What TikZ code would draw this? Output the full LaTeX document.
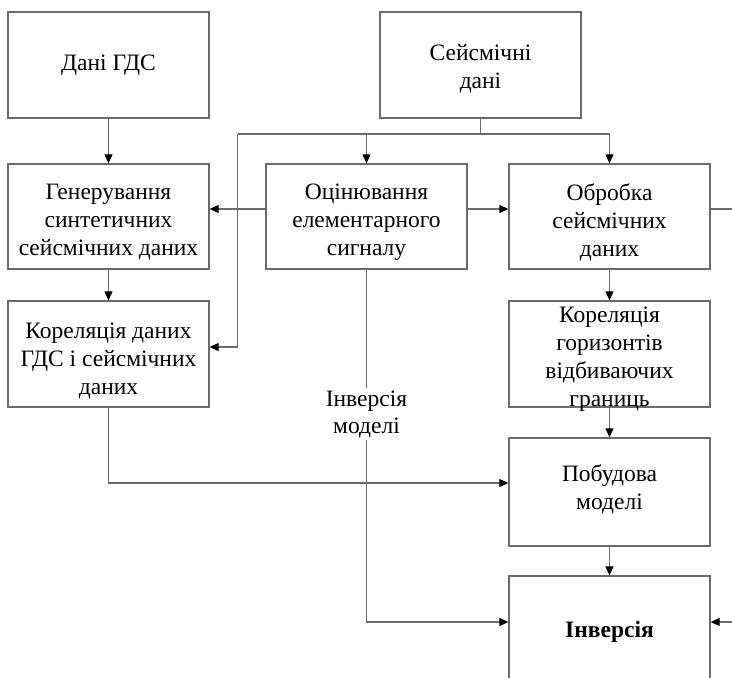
\documentclass[tikz,border=0pt]{standalone}
\usepackage{fontspec}
\setmainfont{Liberation Serif}
\usetikzlibrary{arrows.meta}
\begin{document}
\begin{tikzpicture}[x=1pt,y=-1pt,
  box/.style={draw=black!58, line width=1.3pt, minimum width=201pt, inner sep=0pt},
  txt/.style={align=center, font=\fontsize{23.5}{28}\selectfont, inner sep=0pt},
  link/.style={draw=black!58, line width=1.1pt},
  arr/.style={link, -{Triangle[length=9pt,width=8pt,color=black]}},
  lbl/.style={fill=white, align=center, font=\fontsize{23.5}{27}\selectfont, inner sep=2pt}]
\useasboundingbox (0,0) rectangle (732,678);
\clip (0,0) rectangle (732,678);

% block frames
\node[box, minimum height=106pt] (gds)  at (108.5,65)    {};
\node[box, minimum height=106pt] (seis) at (480.5,65)    {};
\node[box, minimum height=105pt] (gen)  at (108.5,216.5) {};
\node[box, minimum height=105pt] (ocin) at (366.5,216.5) {};
\node[box, minimum height=105pt] (obr)  at (609.5,216.5) {};
\node[box, minimum height=106pt] (kor1) at (108.5,354)   {};
\node[box, minimum height=106pt] (kor2) at (609.5,354)   {};
\node[box, minimum height=108pt] (pob)  at (609.5,492)   {};
\node[box, minimum height=108pt] (inv)  at (609.5,630)   {};

% block captions
\node[txt] (gdsT)  at (gds.center)                {Дані ГДС};
\node[txt] (seisT) at ([yshift=-4pt]seis.center)  {Сейсмічні\\дані};
\node[txt] (genT)  at ([yshift=-6pt]gen.center)   {Генерування\\синтетичних\\сейсмічних даних};
\node[txt] (ocinT) at ([yshift=-6pt]ocin.center)  {Оцінювання\\елементарного\\сигналу};
\node[txt] (obrT)  at ([yshift=-6pt]obr.center)   {Обробка\\сейсмічних\\даних};
\node[txt] (kor1T) at ([yshift=-7pt]kor1.center)  {Кореляція даних\\ГДС і сейсмічних\\даних};
\node[txt] (kor2T) at ([yshift=-5pt]kor2.center)  {Кореляція\\горизонтів\\відбиваючих\\границь};
\node[txt] (pobT)  at ([yshift=3pt]pob.center)    {Побудова\\моделі};
\node[txt] (invT)  at ([yshift=-2pt]inv.center)   {\bfseries Інверсія};

% distribution bus under the seismic data block
\coordinate (bus)  at (480.5,134);
\coordinate (busL) at (237.5,134);
\coordinate (busR) at (609.5,134);
\coordinate (outR) at (732,209);
\coordinate (inR)  at (732,622);

\draw[link] (seis.south) -- (bus);
\draw[link] (busL) -- (busR);
\draw[arr] (ocin.north |- bus) -- (ocin.north);
\draw[arr] (busR) -- (obr.north);
\draw[arr] (busL) |- ([yshift=7pt]kor1.east);

% left column
\draw[arr] (gds.south) -- (gen.north);
\draw[arr] (gen.south) -- (kor1.north);
\draw[arr] (kor1.south) |- ([yshift=9pt]pob.west);

% wavelet estimation outputs
\draw[arr] ([yshift=7.5pt]ocin.west) -- ([yshift=7.5pt]gen.east);
\draw[arr] ([yshift=7.5pt]ocin.east) -- ([yshift=7.5pt]obr.west);
\draw[arr] (ocin.south) |- ([yshift=8pt]inv.west);
\node[lbl] (invm) at (366.5,414) {Інверсія\\моделі};

% right column
\draw[link] ([yshift=7.5pt]obr.east) -- (outR);
\draw[arr] (obr.south) -- (kor2.north);
\draw[arr] (kor2.south) -- (pob.north);
\draw[arr] (pob.south) -- (inv.north);
\draw[arr] (inR) -- ([yshift=8pt]inv.east);
\end{tikzpicture}
\end{document}
